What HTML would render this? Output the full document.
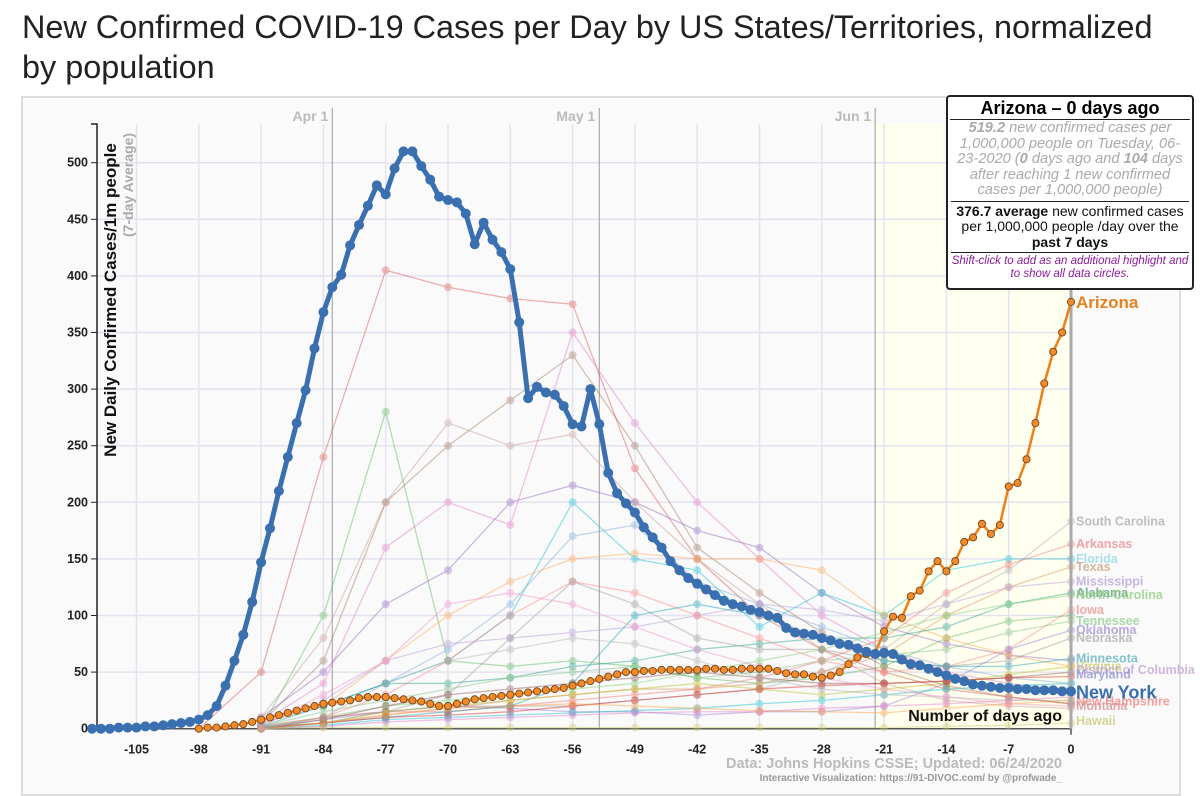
<!DOCTYPE html>
<html><head><meta charset="utf-8"><style>
body{margin:0;width:1200px;height:793px;background:#fff;font-family:"Liberation Sans",sans-serif;overflow:hidden;position:relative}
#title{position:absolute;left:22px;top:7px;font-size:32.4px;line-height:40px;color:#222;width:1165px}
#frame{position:absolute;left:21px;top:96px;width:1160px;height:700px;border:2px solid #ddd;background:#fafafb;box-sizing:border-box}
svg{position:absolute;left:0;top:0}
#tip{position:absolute;left:946px;top:95px;width:248px;height:195px;border:2px solid #222;border-radius:4px;background:#fff;box-sizing:border-box;text-align:center;font-size:13px;line-height:16px;padding:0 3px;overflow:hidden}
#tip .h{font-weight:bold;font-size:18px;line-height:22px;border-bottom:1.5px solid #222;margin:0 -1px}
#tip .g{color:#aaa;font-style:italic;font-size:14.6px;line-height:15.5px;padding:1px 0 2px;border-bottom:1.5px solid #222}
#tip .a{color:#111;font-size:14px;line-height:15.5px;padding:2px 0 2px;border-bottom:1.5px solid #222}
#tip .p{color:#8a1a9a;font-style:italic;font-size:11.5px;line-height:13px;padding-top:2px}
</style></head><body>
<div id="title">New Confirmed COVID-19 Cases per Day by US States/Territories, normalized by population</div>
<div id="frame"></div>
<svg id="chart" width="1200" height="793"></svg>
<div id="tip">
<div class="h">Arizona – 0 days ago</div>
<div class="g"><b>519.2</b> new confirmed cases per 1,000,000 people on Tuesday, 06-23-2020 (<b>0</b> days ago and <b>104</b> days after reaching 1 new confirmed cases per 1,000,000 people)</div>
<div class="a"><b>376.7 average</b> new confirmed cases per 1,000,000 people /day over the <b>past 7 days</b></div>
<div class="p">Shift-click to add as an additional highlight and to show all data circles.</div>
</div>
<script>
const xTicks=[-105,-98,-91,-84,-77,-70,-63,-56,-49,-42,-35,-28,-21,-14,-7,0];
const yTicks=[0,50,100,150,200,250,300,350,400,450,500];
const months=["Apr 1","May 1","Jun 1"];
const monthDays=[-83,-53,-22];
const nyStart=-110;
const nyValues=[0,0,0,1,1,1,2,2,3,4,5,
6,8,12,20,38,60,83,112,147,
177,210,240,270,299,336,368,390,401,427,
445,462,480,472,495,510,510,497,485,470,
467,465,455,428,447,432,421,406,359,292,
302,297,295,285,269,267,300,269,226,208,
199,191,178,169,160,148,140,133,128,123,118,113,110,108,105,103,
100,98,89,85,84,83,80,78,75,74,71,68,66,67,66,61,57,56,53,50,47,44,42,39,38,37,36,36,35,35,34,34,34,33,33];
const azStart=-98;
const azValues=[0,1,1,2,3,4,6,8,
10,12,14,16,18,20,22,
23,24,25,27,28,28,28,
27,26,25,24,22,20,20,
22,24,26,27,28,29,30,
31,32,33,34,35,36,38,
40,42,44,46,48,50,50,
51,51,52,52,52,52,52,
53,53,52,52,53,53,53,
53,51,49,48,48,46,45,
47,50,57,63,66,67,86,
99,98,117,122,139,148,139,
148,165,169,181,172,180,214,
217,238,270,305,333,350,377];
const bgDays=[-98,-91,-84,-77,-70,-63,-56,-49,-42,-35,-28,-21,-14,-7,0];
const bg1=[0,50,240,405,390,380,375,230,150,100,70,50,35,28,22];
const bg2=[null,0,100,280,60,55,60,55,45,40,45,55,80,95,100];
const bg3=[null,5,60,200,250,290,330,250,160,120,85,55,38,28,22];
const bg4=[null,5,40,160,200,180,350,270,200,150,100,70,50,40,33];
const bg5=[null,10,50,110,140,200,215,200,175,160,120,90,75,65,60];
const bg6=[null,null,20,40,60,100,200,150,140,90,120,100,140,150,150];
const bg7=[null,10,80,200,270,250,260,200,150,110,70,40,25,20,18];
const bg8=[null,5,20,40,70,110,170,180,130,110,90,70,55,45,40];
const bg9=[null,5,20,60,100,130,150,155,150,150,140,100,80,65,55];
const bg10=[null,2,10,15,20,20,20,25,30,35,50,70,110,140,183];
const bg11=[null,2,10,15,15,20,25,30,35,45,60,80,120,145,163];
const bg12=[null,1,5,12,18,25,30,35,35,40,50,65,100,125,143];
const bg13=[null,3,25,60,75,80,85,90,100,110,105,95,110,125,130];
const bg14=[null,2,20,40,40,45,55,60,70,75,80,80,90,110,120];
const bg15=[null,1,10,20,25,30,35,40,50,60,70,85,100,110,118];
const bg16=[null,0,10,30,60,100,130,120,100,80,60,50,55,70,105];
const bg17=[null,2,15,25,35,45,50,55,45,50,60,65,70,85,95];
const bg18=[null,1,8,15,20,18,15,15,12,15,15,20,40,70,87];
const bg19=[null,1,5,15,30,80,130,110,80,70,70,60,55,60,80];
const bg20=[null,1,5,10,15,20,40,100,110,100,80,60,55,55,62];
const bg21=[null,0,5,15,20,25,30,35,40,35,30,35,40,48,55];
const bg22=[null,0,8,20,30,35,40,45,50,45,40,40,42,45,50];
const bg23=[null,0,5,10,12,15,20,25,30,35,38,40,42,45,46];
const bg24=[null,0,3,8,10,12,14,16,18,22,25,30,35,38,40];
const bg25=[null,0,2,6,8,10,12,14,15,15,18,20,22,25,28];
const bg26=[null,0,1,1,1,1,1,1,1,1,1,1,2,3,5];
const bg27=[null,0,5,12,18,20,22,20,18,16,15,14,18,22,25];
const bg28=[null,0,10,40,60,70,80,75,60,45,35,30,28,25,25];
const bg29=[null,2,30,60,110,120,110,90,70,55,45,35,28,22,20];
const bgSeries=[bg1,bg2,bg3,bg4,bg5,bg6,bg7,bg8,bg9,bg10,bg11,bg12,bg13,bg14,bg15,bg16,bg17,bg18,bg19,bg20,bg21,bg22,bg23,bg24,bg25,bg26,bg27,bg28,bg29];
const bgColors=["#d9534f","#5cb85c","#a0785a","#e377c2","#9467bd","#17becf","#c49c94","#7fa8d8","#ffa550","#aaaaaa","#f07070","#d8905a","#b89ad5","#2ca08a","#7fcf70","#ff8080","#80c080","#8f7fcf","#999999","#1f9fb0","#bcbd22","#8c564b","#d62728","#17becf","#e377c2","#c8c860","#ff9f3e","#b0b0b0","#f090c8"];
const labelNames=["South Carolina","Arkansas","Florida","Texas","Mississippi","Alabama","North Carolina","Iowa","Tennessee","Oklahoma","Nebraska","Minnesota","Virginia","District of Columbia","Maryland","New Hampshire","Montana","Hawaii"];
const labelValues=[183,163,150,143,130,120,118,105,95,87,80,62,55,52,48,24,20,7];
const labelColors=["#aaa","#e88","#8cd8e8","#c8a080","#b8a0d8","#5a9a7a","#8ccf80","#f09090","#90cf90","#a090d8","#aaa","#5ab0c0","#c8c860","#c0a0d8","#9090d0","#f08080","#d09090","#c8c870"];

const X0=1071,DX=8.9,Y0=728.7,DY=1.132;
const x=d=>X0+d*DX, y=v=>Y0-v*DY;
const svg=document.getElementById('chart');const NS="http://www.w3.org/2000/svg";
function mk(tag,at,parent){const e=document.createElementNS(NS,tag);for(const k in at)e.setAttribute(k,at[k]);(parent||svg).appendChild(e);return e;}
const hl=mk('rect',{x:x(monthDays[2]),y:124,width:X0-x(monthDays[2]),height:Y0-124,fill:'#fffff0'});


for(let d=-105;d<=0;d+=7){const l=mk('line',{x1:x(d),x2:x(d),y1:124,y2:Y0,stroke:'#e4e2ee','stroke-width':1.5});

}
yTicks.forEach(v=>{const l=mk('line',{x1:97,x2:X0,y1:y(v),y2:y(v),stroke:'#e4e2ee','stroke-width':1.5});


const t=mk('text',{x:88,y:y(v)+4,'text-anchor':'end','font-size':12.5,'font-weight':'bold',fill:'#222'});t.textContent=v;


const tk=mk('line',{x1:91,x2:97,y1:y(v),y2:y(v),stroke:'#222'});

});
months.forEach((m,i)=>{const l=mk('line',{x1:x(monthDays[i]),x2:x(monthDays[i]),y1:108,y2:Y0,stroke:'#aaa','stroke-width':1.2});


const t=mk('text',{x:x(monthDays[i])-4,y:121,'text-anchor':'end','font-size':14,'font-weight':'bold',fill:'#bbb'});t.textContent=m;

});
const ya=mk('path',{d:`M91 124 H97 V${Y0}`,fill:'none',stroke:'#222','stroke-width':1.5});


const xa=mk('path',{d:`M97 ${Y0} H${X0} V${Y0+6}`,fill:'none',stroke:'#555','stroke-width':1.5});


xTicks.forEach(d=>{const t=mk('text',{x:x(d),y:Y0+25,'text-anchor':'middle','font-size':12.5,'font-weight':'bold',fill:'#222'});t.textContent=d;

});
bgSeries.forEach((s,i)=>{const g=mk('g',{opacity:0.45});


let d='';s.forEach((v,j)=>{if(v==null)return;d+=(d?'L':'M')+x(bgDays[j])+' '+y(v);});
mk('path',{d,fill:'none',stroke:bgColors[i],'stroke-width':1.3},g);
s.forEach((v,j)=>{if(v==null)return;const c=mk('circle',{cx:x(bgDays[j]),cy:y(v),r:4,fill:bgColors[i],opacity:0.8},g);

});});
const zl=mk('line',{x1:X0,x2:X0,y1:124,y2:Y0,stroke:'#aaa','stroke-width':3});


labelNames.forEach((n,i)=>{const t=mk('text',{x:X0+5,y:y(labelValues[i])+4,'font-size':12.5,'font-weight':'bold',fill:labelColors[i],opacity:0.75});t.textContent=n;

});
(function(){let d='';azValues.forEach((v,i)=>{d+=(i?'L':'M')+x(azStart+i)+' '+y(v);});
const p=mk('path',{d,fill:'none',stroke:'#f07f1a','stroke-width':2.5});


azValues.forEach((v,i)=>{const c=mk('circle',{cx:x(azStart+i),cy:y(v),r:3.6,fill:'#f08a2a',stroke:'#6a3a10','stroke-width':0.8});

});
const t=mk('text',{x:X0+5,y:y(azValues[azValues.length-1])+6,'font-size':17,'font-weight':'bold',fill:'#e8801e'});t.textContent='Arizona';

})();
(function(){let d='';nyValues.forEach((v,i)=>{d+=(i?'L':'M')+x(nyStart+i)+' '+y(v);});
const p=mk('path',{d,fill:'none',stroke:'#3a6fb0','stroke-width':5,'stroke-linejoin':'round'});


nyValues.forEach((v,i)=>{const c=mk('circle',{cx:x(nyStart+i),cy:y(v),r:5,fill:'#3a6fb0'});

});
const t=mk('text',{x:X0+5,y:y(nyValues[nyValues.length-1])+7,'font-size':18,'font-weight':'bold',fill:'#3a6fb0'});t.textContent='New York';

})();
function txt(s,at,name){const t=mk('text',at);t.textContent=s;

return t;}
txt('New Daily Confirmed Cases/1m people',{x:0,y:0,transform:'translate(116,300) rotate(-90)','text-anchor':'middle','font-size':17,'font-weight':'bold',fill:'#111'},'y-axis-title');
txt('(7-day Average)',{x:0,y:0,transform:'translate(133,185) rotate(-90)','text-anchor':'middle','font-size':14,'font-weight':'bold',fill:'#aaa'},'y-axis-subtitle');
txt('Number of days ago',{x:1062,y:721,'text-anchor':'end','font-size':16,'font-weight':'bold',fill:'#111',stroke:'#fffbe0','stroke-width':3,'paint-order':'stroke'},'x-axis-title');
txt('Data: Johns Hopkins CSSE; Updated: 06/24/2020',{x:1062,y:768,'text-anchor':'end','font-size':14.5,'font-weight':'bold',fill:'#bbb'},'data-source');
txt('Interactive Visualization: https://91-DIVOC.com/ by @profwade_',{x:1062,y:781,'text-anchor':'end','font-size':10,'font-weight':'bold',fill:'#999'},'credit');
</script>
</body></html>
